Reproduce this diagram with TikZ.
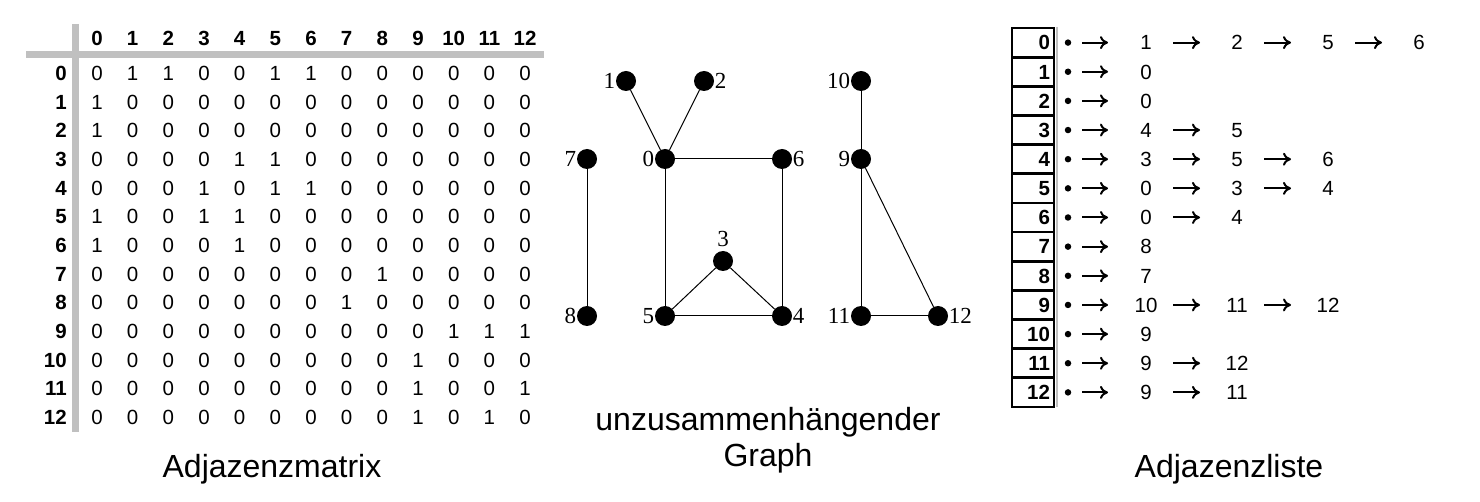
\documentclass[tikz,border=0pt]{standalone}
\usepackage{fontspec}
\setmainfont{Liberation Sans}
\newfontfamily\graphfont{Liberation Serif}
\usetikzlibrary{arrows.meta, positioning}
\definecolor{bargray}{RGB}{192,192,192}
\tikzset{
  cell/.style={inner sep=0pt, text height=14.7pt, text depth=0pt, font=\fontsize{20.5}{22}\selectfont},
  headcell/.style={cell, font=\fontsize{20.5}{22}\selectfont\bfseries},
  vertex/.style={circle, fill=black, inner sep=0pt, minimum size=20pt},
  vlabel/.style={font=\graphfont\fontsize{23}{26}\selectfont, inner sep=0.5pt},
  edge/.style={line width=1pt},
  slot/.style={draw, line width=2.8pt, text width=34pt, align=right, inner xsep=4pt, inner ysep=0pt,
    text height=14.7pt, text depth=0pt, minimum height=29.15pt, font=\fontsize{20.5}{22}\selectfont\bfseries},
  dot/.style={circle, fill=black, inner sep=0pt, minimum size=6.5pt},
  entry/.style={cell},
  link/.style={line width=2pt, -{Computer Modern Rightarrow[length=8pt, width=13pt]}},
  caption/.style={align=center, font=\fontsize{32}{36}\selectfont}
}
\begin{document}
\begin{tikzpicture}[x=1pt, y=-1pt]
    \useasboundingbox (0,0) rectangle (1480,502);

    % Adjacency matrix
    \draw[bargray, line width=7pt] (26,55) -- (544,55);
    \draw[bargray, line width=7pt] (75.5,24) -- (75.5,432);
    \foreach \c in {0,...,12}
        \node[headcell] (h\c) at (97+35.67*\c, 38) {\c};
    \foreach \r/\rowvals in {
        0/{0,1,1,0,0,1,1,0,0,0,0,0,0},
        1/{1,0,0,0,0,0,0,0,0,0,0,0,0},
        2/{1,0,0,0,0,0,0,0,0,0,0,0,0},
        3/{0,0,0,0,1,1,0,0,0,0,0,0,0},
        4/{0,0,0,1,0,1,1,0,0,0,0,0,0},
        5/{1,0,0,1,1,0,0,0,0,0,0,0,0},
        6/{1,0,0,0,1,0,0,0,0,0,0,0,0},
        7/{0,0,0,0,0,0,0,0,1,0,0,0,0},
        8/{0,0,0,0,0,0,0,1,0,0,0,0,0},
        9/{0,0,0,0,0,0,0,0,0,0,1,1,1},
        10/{0,0,0,0,0,0,0,0,0,1,0,0,0},
        11/{0,0,0,0,0,0,0,0,0,1,0,0,1},
        12/{0,0,0,0,0,0,0,0,0,1,0,1,0}} {
        \node[headcell, anchor=east] (r\r) at (67, 73+28.67*\r) {\r};
        \foreach \v [count=\c from 0] in \rowvals
            \node[cell] (m\r-\c) at (97+35.67*\c, 73+28.67*\r) {\v};
    }
    \node[caption] (matcap) at (272,469) {Adjazenzmatrix};

    % Graph nodes
    \node[vertex, label={[vlabel]left:1}] (g1) at (626,81) {};
    \node[vertex, label={[vlabel]right:2}] (g2) at (704,81) {};
    \node[vertex, label={[vlabel]left:10}] (g10) at (861,81) {};
    \node[vertex, label={[vlabel]left:7}] (g7) at (587,159) {};
    \node[vertex, label={[vlabel]left:0}] (g0) at (665,159) {};
    \node[vertex, label={[vlabel]right:6}] (g6) at (782,159) {};
    \node[vertex, label={[vlabel]left:9}] (g9) at (861,159) {};
    \node[vertex, label={[vlabel, label distance=3pt]above:3}] (g3) at (723,261) {};
    \node[vertex, label={[vlabel]left:8}] (g8) at (587,316) {};
    \node[vertex, label={[vlabel]left:5}] (g5) at (665,316) {};
    \node[vertex, label={[vlabel]right:4}] (g4) at (782,316) {};
    \node[vertex, label={[vlabel]left:11}] (g11) at (861,316) {};
    \node[vertex, label={[vlabel]right:12}] (g12) at (938,316) {};

    % Graph edges
    \draw[edge] (g1) -- (g0);
    \draw[edge] (g2) -- (g0);
    \draw[edge] (g0) -- (g6);
    \draw[edge] (g0) -- (g5);
    \draw[edge] (g6) -- (g4);
    \draw[edge] (g5) -- (g4);
    \draw[edge] (g5) -- (g3);
    \draw[edge] (g3) -- (g4);
    \draw[edge] (g7) -- (g8);
    \draw[edge] (g10) -- (g9);
    \draw[edge] (g9) -- (g11);
    \draw[edge] (g9) -- (g12);
    \draw[edge] (g11) -- (g12);
    \node[caption] (graphcap) at (768,440) {unzusammenhängender\\Graph};

    % Adjacency list
    \draw[bargray, line width=2pt] (1057,27) -- (1057,407);
    \foreach \r/\succs in {0/{1,2,5,6}, 1/{0}, 2/{0}, 3/{4,5}, 4/{3,5,6}, 5/{0,3,4}, 6/{0,4},
        7/{8}, 8/{7}, 9/{10,11,12}, 10/{9}, 11/{9,12}, 12/{9,11}} {
        \node[slot] (s\r) at (1033, 28+29.15*\r+14.6) {\r};
        \node[dot] (b\r) at (1068, 28+29.15*\r+14.6) {};
        \foreach \v [count=\j from 0, evaluate=\j as \p using int(\j-1)] in \succs {
            \node[entry] (v\r-\j) at (1146+91*\j, 28+29.15*\r+14.6) {\v};
            \ifnum\j=0
                \draw[link, shorten <=14pt, shorten >=38pt] (b\r.center) -- (v\r-\j.center);
            \else
                \draw[link, shorten <=27pt, shorten >=37pt] (v\r-\p.center) -- (v\r-\j.center);
            \fi
        }
    }
    \node[caption] (listcap) at (1229,469) {Adjazenzliste};
\end{tikzpicture}
\end{document}
